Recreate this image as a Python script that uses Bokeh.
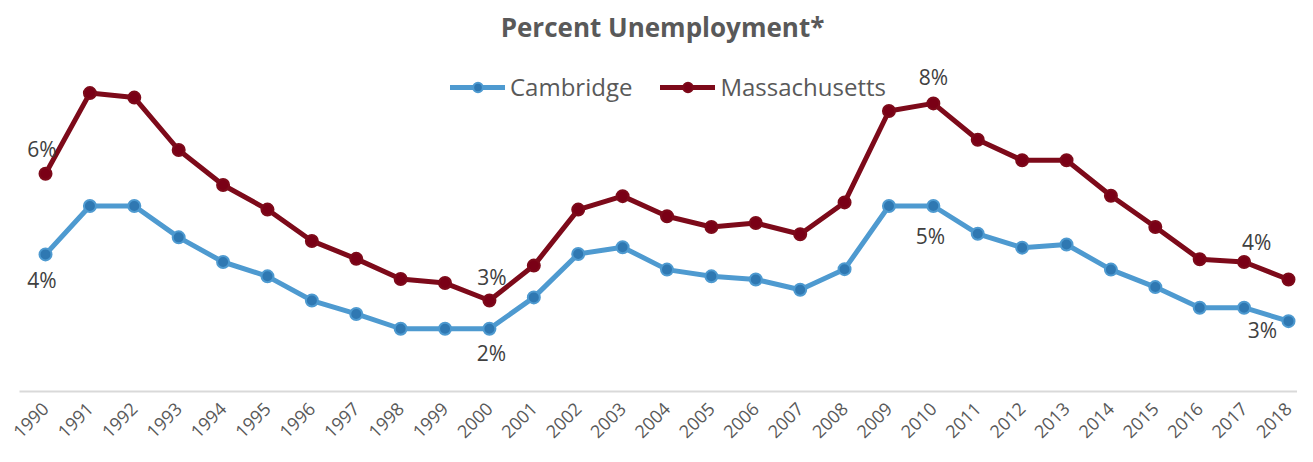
import math
from bokeh.plotting import figure
from bokeh.models import ColumnDataSource, Range1d, FixedTicker, Legend, LegendItem, Label
from bokeh.embed import file_html
from bokeh.resources import INLINE
from bokeh.core.properties import value

# ---------------- data ----------------
years = list(range(1990, 2019))
cambridge = [4.15, 5.23, 5.23, 4.53, 3.98, 3.66, 3.12, 2.82, 2.49, 2.49,
             2.49, 3.19, 4.16, 4.31, 3.81, 3.66, 3.59, 3.36, 3.82, 5.23,
             5.23, 4.61, 4.30, 4.37, 3.81, 3.42, 2.96, 2.96, 2.66]
massachusetts = [5.95, 7.75, 7.65, 6.48, 5.70, 5.15, 4.45, 4.05, 3.60, 3.51,
                 3.12, 3.90, 5.15, 5.45, 5.00, 4.76, 4.85, 4.60, 5.31, 7.35,
                 7.52, 6.71, 6.25, 6.25, 5.46, 4.76, 4.04, 3.98, 3.59]
series_names = ["Cambridge", "Massachusetts"]
label_series = ["Massachusetts", "Cambridge", "Massachusetts", "Cambridge",
                "Massachusetts", "Cambridge", "Massachusetts", "Cambridge"]
label_years = [1990, 1990, 2000, 2000, 2010, 2010, 2017, 2018]
title_text = "Percent Unemployment*"

# ---------------- styles ----------------
FONT = "Open Sans"
TXT = "#595959"
LBL = "#404040"
BLUE_LINE, BLUE_FILL = "#4E9AD0", "#2F78B2"
RED_LINE, RED_FILL = "#7D0A1A", "#7A0016"
label_dx = [-3.5, -3.5, 2.5, 2, 0, -3, 12.5, -26]
label_dy = [-25, 25.5, -24, 24.5, -26, 30, -20, 9]

W, H = 1297, 446
p = figure(width=W, height=H, output_backend="svg", toolbar_location=None,
           y_axis_location=None, min_border_left=19, min_border_right=0,
           min_border_top=0, min_border_bottom=55,
           x_range=Range1d(1989.414, 2018.203), y_range=Range1d(1.0893, 9.817))
p.outline_line_color = None
p.xgrid.visible = False
p.ygrid.visible = False
p.background_fill_color = "white"
p.border_fill_color = "white"

ax = p.xaxis[0]
ax.ticker = FixedTicker(ticks=years)
ax.major_label_overrides = {y: str(y) for y in years}
ax.major_label_orientation = math.pi / 4
ax.major_tick_line_color = None
ax.minor_tick_line_color = None
ax.axis_line_color = "#D9D9D9"
ax.axis_line_width = 2
ax.major_label_text_font = FONT
ax.major_label_text_font_size = "18px"
ax.major_label_text_color = TXT
ax.major_label_standoff = 8

data = {"Cambridge": cambridge, "Massachusetts": massachusetts}
style = {"Cambridge": (BLUE_LINE, BLUE_FILL), "Massachusetts": (RED_LINE, RED_FILL)}
items = []
for name in series_names:
    lc, fc = style[name]
    src = ColumnDataSource(dict(x=years, y=data[name]))
    rl = p.line("x", "y", source=src, line_color=lc, line_width=5,
                line_join="round", line_cap="round")
    rs = p.scatter("x", "y", source=src, size=12, fill_color=fc,
                   line_color=lc, line_width=2)
    items.append(LegendItem(label=name, renderers=[rl, rs]))

# data labels
lx, ly, lt = [], [], []
for s, yr in zip(label_series, label_years):
    v = data[s][years.index(yr)]
    lx.append(yr)
    ly.append(v)
    lt.append(f"{math.floor(v + 0.5)}%")
lsrc = ColumnDataSource(dict(x=lx, y=ly, t=lt, dx=label_dx, dy=label_dy))
p.text("x", "y", text="t", source=lsrc, x_offset="dx", y_offset="dy",
       text_align="center", text_baseline="middle", text_font=value(FONT),
       text_font_size="21px", text_color=LBL)

legend = Legend(items=items, orientation="horizontal", location=(431, 288),
                glyph_width=55, glyph_height=24, label_height=24,
                label_standoff=5, spacing=28, padding=0, margin=0,
                border_line_color=None, background_fill_alpha=0,
                label_text_font=FONT, label_text_font_size="24px",
                label_text_color=TXT)
p.add_layout(legend)

p.add_layout(Label(x=643, y=365, x_units="screen", y_units="screen",
                   text=title_text, text_align="center", text_baseline="middle",
                   text_font=FONT, text_font_size="26px", text_font_style="bold",
                   text_color=TXT))

open("out.html", "w").write(file_html(p, INLINE))
